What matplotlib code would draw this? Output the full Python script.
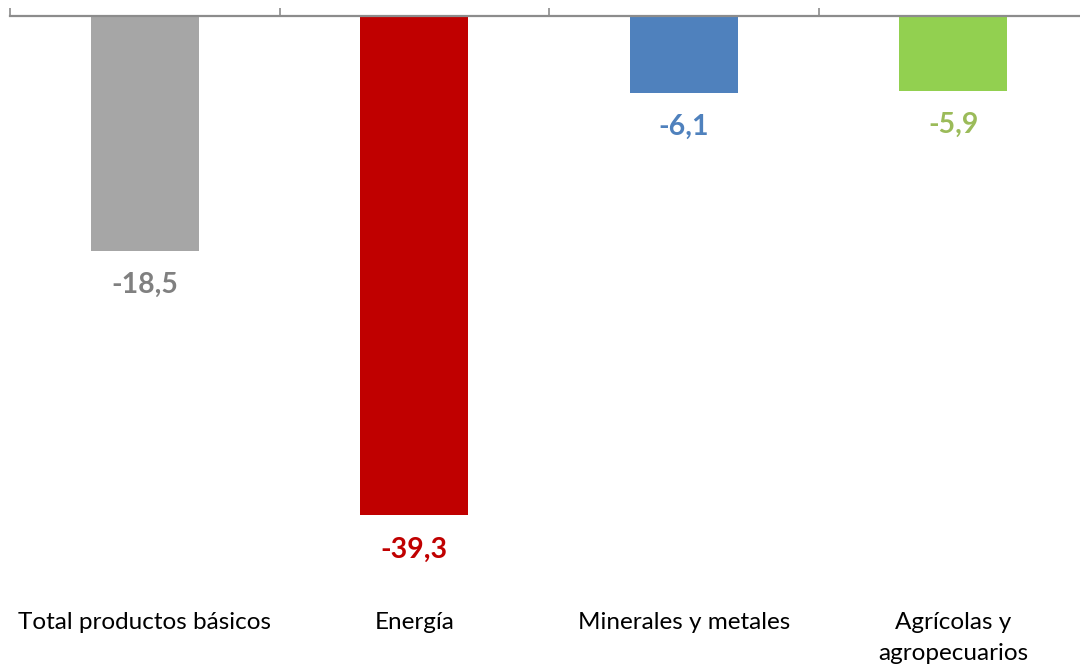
import numpy as np
import matplotlib.pyplot as plt
from matplotlib.transforms import blended_transform_factory

# Variación de precios de productos básicos (%)
categorias = ["Total productos básicos", "Energía", "Minerales y metales", "Agrícolas y\nagropecuarios"]
valores = [-18.5, -39.3, -6.1, -5.9]
colores_barra = ["#A6A6A6", "#C00000", "#4F81BD", "#92D050"]
colores_texto = ["#808080", "#C00000", "#4F81BD", "#9BBB59"]

plt.rcParams['font.family'] = ['Lato', 'DejaVu Sans']

W, H = 1080, 665
fig = plt.figure(figsize=(W / 100, H / 100), dpi=100)

ymin = -40
px_per_unit = 12.72
top_px = 15.5
ax_h = -ymin * px_per_unit
ax = fig.add_axes([10 / W, 1 - (top_px + ax_h) / H, 1078 / W, ax_h / H])

x = np.arange(len(categorias))
ax.bar(x, valores, width=0.40, color=colores_barra)

ax.set_xlim(-0.5, len(categorias) - 0.5)
ax.set_ylim(ymin, 0)

for s in ['left', 'right', 'bottom']:
    ax.spines[s].set_visible(False)
ax.spines['top'].set_color('#8C8C8C')
ax.spines['top'].set_linewidth(1.6)
ax.yaxis.set_visible(False)
ax.xaxis.tick_top()
ax.set_xticks(np.arange(len(categorias) + 1) - 0.5)
ax.set_xticklabels([])
ax.tick_params(axis='x', direction='out', length=6, width=1.2, color='#8C8C8C')

for xi, v, c in zip(x, valores, colores_texto):
    ax.annotate(f"{v:.1f}".replace('.', ','), (xi, v), xytext=(0, -24.5),
                textcoords='offset points', ha='center', va='center',
                fontsize=20.5, fontweight='bold', color=c)

trans = blended_transform_factory(ax.transData, fig.transFigure)
for xi, cat in zip(x, categorias):
    ax.text(xi, 1 - 612 / H, cat, transform=trans, ha='center', va='top',
            fontsize=17.5, color='black', linespacing=1.6)

fig.savefig('out.png', dpi=100)
